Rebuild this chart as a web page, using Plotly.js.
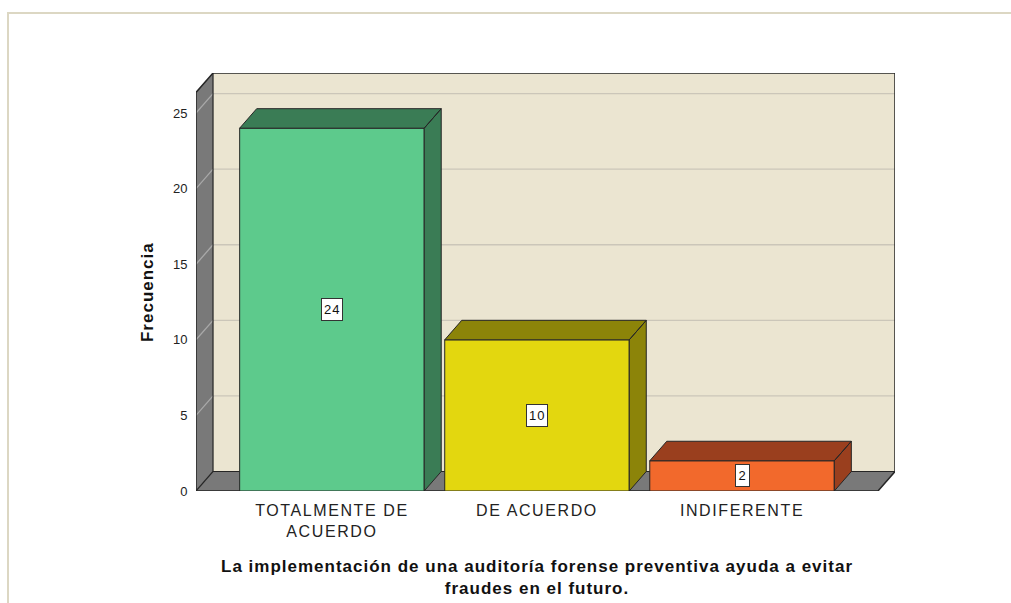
<!DOCTYPE html>
<html>
<head>
<meta charset="utf-8">
<script src="https://cdn.plot.ly/plotly-3.0.1.min.js"></script>
<style>
  html, body { margin: 0; padding: 0; background: #ffffff; }
  #wrap { position: relative; width: 1011px; height: 603px; overflow: hidden; }
  #chart { position: absolute; left: 0; top: 0; width: 1011px; height: 603px; }
  #chart .xtick text { letter-spacing: 1.6px; }
  #chart .annotation-text-g text { letter-spacing: 1px; }
  #frame { position: absolute; left: 7px; top: 12px; width: 1011px; height: 600px;
           border-top: 2px solid #dcd7c3; border-left: 2px solid #dcd7c3; pointer-events: none; }
</style>
</head>
<body>
<div id="wrap">
  <div id="chart"></div>
  <div id="frame"></div>
</div>
<script>
// ---- data ----
const categories = ["TOTALMENTE DE<br>ACUERDO", "DE ACUERDO", "INDIFERENTE"];
const values = [24, 10, 2];
const yTickValues = [0, 5, 10, 15, 20, 25];
const yAxisTitle = "Frecuencia";
const xAxisTitle = "La implementación de una auditoría forense preventiva ayuda a evitar<br>fraudes en el futuro.";

// ---- styling ----
const frontColors = ["#5dca8c", "#e3d70f", "#f2692c"];
const darkColors  = ["#3a7c55", "#8c8409", "#9a3f1e"];
const FONT = "Liberation Sans, Arial, sans-serif";
const EDGE = "#262626";
const BAR_W = 0.9;
const DX = 0.083;   // depth offset in category units
const DY = 1.29;    // depth offset in value units
const XL = -0.663, XR = 2.663;  // front floor extent
const YTOP = 26.36;             // front top of side wall

const idx = categories.map((c, i) => i);

const traces = [];
// front faces
traces.push({
  type: "bar", x: idx, y: values, width: BAR_W,
  marker: { color: frontColors, line: { color: EDGE, width: 1 } },
  hoverinfo: "skip", showlegend: false
});
// top and side faces
idx.forEach(i => {
  const v = values[i];
  const l = i - BAR_W / 2, r = i + BAR_W / 2;
  traces.push({
    type: "scatter", mode: "lines", fill: "toself",
    x: [l, l + DX, r + DX, r, l, null, r, r + DX, r + DX, r, r],
    y: [v, v + DY, v + DY, v, v, null, 0, DY, v + DY, v, 0],
    fillcolor: darkColors[i], line: { color: EDGE, width: 1 },
    hoverinfo: "skip", showlegend: false
  });
});

// walls and grid as shapes
const shapes = [];
shapes.push({ type: "rect", layer: "below", xref: "x", yref: "y",
  x0: XL + DX, x1: XR + DX, y0: DY, y1: YTOP + DY,
  fillcolor: "#ebe5d1", line: { width: 0 } });
shapes.push({ type: "path", layer: "below", xref: "x", yref: "y",
  path: `M ${XL} 0 L ${XL + DX} ${DY} L ${XL + DX} ${YTOP + DY} L ${XL} ${YTOP} Z`,
  fillcolor: "#797979", line: { width: 0 } });
shapes.push({ type: "path", layer: "below", xref: "x", yref: "y",
  path: `M ${XL} 0 L ${XR} 0 L ${XR + DX} ${DY} L ${XL + DX} ${DY} Z`,
  fillcolor: "#797979", line: { width: 0 } });
yTickValues.filter(v => v > 0).forEach(v => {
  shapes.push({ type: "line", layer: "below", xref: "x", yref: "y",
    x0: XL + DX, x1: XR + DX, y0: v + DY, y1: v + DY,
    line: { color: "#cbc6b9", width: 1.3 } });
  shapes.push({ type: "line", layer: "below", xref: "x", yref: "y",
    x0: XL, x1: XL + DX, y0: v, y1: v + DY,
    line: { color: "#a9a9a9", width: 1.3 } });
});
// outlines
shapes.push({ type: "path", layer: "below", xref: "x", yref: "y",
  path: `M ${XL} 0 L ${XL} ${YTOP} L ${XL + DX} ${YTOP + DY} L ${XR + DX} ${YTOP + DY} L ${XR + DX} ${DY} L ${XR} 0 Z`,
  line: { color: EDGE, width: 1.5 } });
shapes.push({ type: "path", layer: "below", xref: "x", yref: "y",
  path: `M ${XL} 0 L ${XL + DX} ${DY} L ${XL + DX} ${YTOP + DY} M ${XL + DX} ${DY} L ${XR + DX} ${DY}`,
  line: { color: EDGE, width: 1.2 } });

// annotations
const annotations = idx.map(i => ({
  x: i, y: values[i] / 2, xref: "x", yref: "y",
  text: String(values[i]), showarrow: false,
  bgcolor: "#ffffff", bordercolor: "#333333", borderwidth: 1, borderpad: 3,
  font: { family: FONT, size: 13, color: "#111" }
}));
annotations.push({
  xref: "paper", yref: "paper", x: -0.0701, y: 0.476,
  xanchor: "center", yanchor: "middle", textangle: -90, showarrow: false,
  text: "<b>" + yAxisTitle + "</b>",
  font: { family: FONT, size: 17, color: "#111" }
});
annotations.push({
  xref: "paper", yref: "paper", x: 0.4878, y: -0.206,
  xanchor: "center", yanchor: "middle", showarrow: false,
  text: "<b>" + xAxisTitle.replace("<br>", "</b><br><b>") + "</b>",
  font: { family: FONT, size: 17, color: "#111" }
});

const layout = {
  width: 1011, height: 603,
  margin: { l: 196, r: 116, t: 73, b: 112, pad: 0 },
  paper_bgcolor: "rgba(0,0,0,0)", plot_bgcolor: "rgba(0,0,0,0)",
  showlegend: false,
  xaxis: {
    type: "linear", range: [XL, XR + DX],
    tickvals: idx, ticktext: categories,
    showgrid: false, zeroline: false, showline: false,
    ticks: "outside", ticklen: 5, tickcolor: "rgba(0,0,0,0)",
    tickfont: { family: FONT, size: 16, color: "#222" }
  },
  yaxis: {
    range: [0, YTOP + DY], tickvals: yTickValues,
    showgrid: false, zeroline: false, showline: false,
    ticks: "outside", ticklen: 5, tickcolor: "rgba(0,0,0,0)",
    tickfont: { family: FONT, size: 13, color: "#222" }
  },
  shapes: shapes,
  annotations: annotations
};

Plotly.newPlot("chart", traces, layout, { staticPlot: true, displayModeBar: false });
</script>
</body>
</html>
